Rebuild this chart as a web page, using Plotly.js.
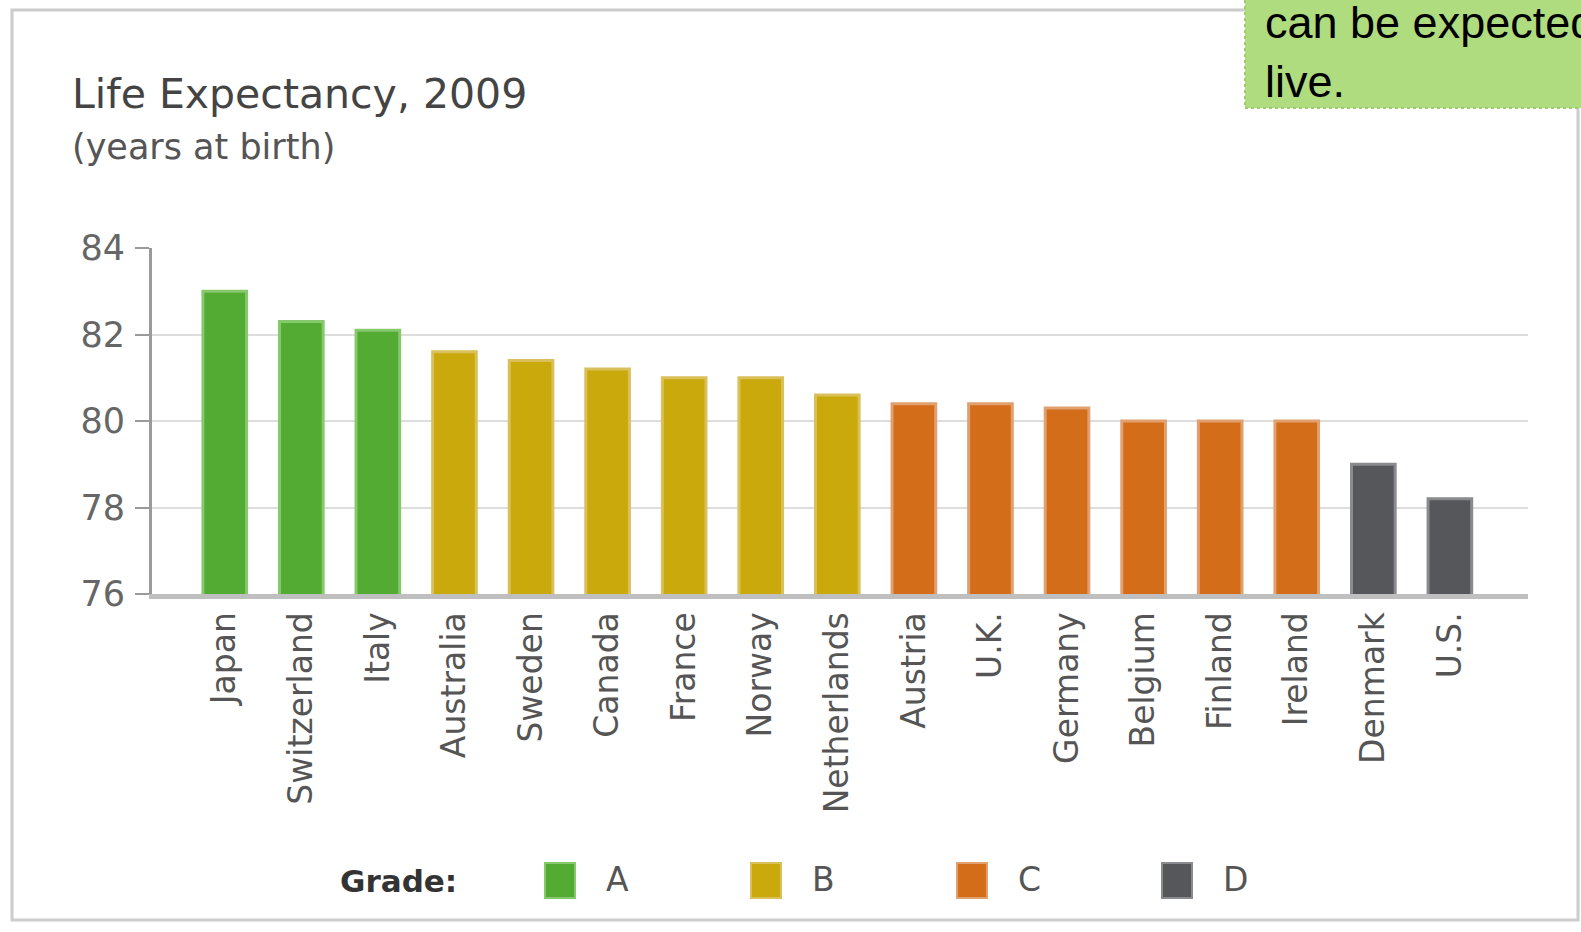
<!DOCTYPE html>
<html>
<head>
<meta charset="utf-8">
<script src="https://cdn.plot.ly/plotly-3.0.1.min.js"></script>
<style>
  html, body { margin: 0; padding: 0; background: #ffffff; }
  #chart { width: 1581px; height: 932px; }
</style>
</head>
<body>
<div id="chart"></div>
<script>
// ---- data ----
var countries = ['Japan', 'Switzerland', 'Italy', 'Australia', 'Sweden', 'Canada', 'France', 'Norway',
  'Netherlands', 'Austria', 'U.K.', 'Germany', 'Belgium', 'Finland', 'Ireland', 'Denmark', 'U.S.'];
var lifeExpectancy = [83.0, 82.3, 82.1, 81.6, 81.4, 81.2, 81.0, 81.0, 80.6, 80.4, 80.4, 80.3, 80.0, 80.0, 80.0, 79.0, 78.2];
var countryGrade = ['A', 'A', 'A', 'B', 'B', 'B', 'B', 'B', 'B', 'C', 'C', 'C', 'C', 'C', 'C', 'D', 'D'];
var grades = ['A', 'B', 'C', 'D'];
var gradeFill = ['#53ab33', '#c9a90b', '#d46d19', '#56575b'];
var gradeEdge = ['#86c86c', '#d9c05a', '#e0a070', '#8a8b8e'];
var yTicks = [76, 78, 80, 82, 84];

// ---- layout helpers ----
var W = 1581, H = 932;
var M = { l: 152, r: 53, t: 248, b: 338 };
var PW = W - M.l - M.r, PH = H - M.t - M.b;
function px(x) { return (x - M.l) / PW; }
function py(y) { return (H - M.b - y) / PH; }

var fillOf = {}, edgeOf = {};
grades.forEach(function (g, i) { fillOf[g] = gradeFill[i]; edgeOf[g] = gradeEdge[i]; });

var trace = {
  type: 'bar',
  x: countries,
  y: lifeExpectancy,
  width: 0.57,
  marker: {
    color: countryGrade.map(function (g) { return fillOf[g]; }),
    line: { color: countryGrade.map(function (g) { return edgeOf[g]; }), width: 3 }
  },
  hoverinfo: 'x+y',
  showlegend: false
};

var shapes = [];
var annotations = [];

// outer frame
shapes.push({ type: 'rect', xref: 'paper', yref: 'paper', layer: 'below',
  x0: px(12), x1: px(1578), y0: py(920), y1: py(10),
  line: { color: '#cccccc', width: 3 }, fillcolor: 'rgba(0,0,0,0)' });

// note box (top right, cut off by the picture edge as in the reference)
shapes.push({ type: 'rect', xref: 'paper', yref: 'paper', layer: 'above',
  x0: px(1245), x1: px(1600), y0: py(108), y1: py(-20),
  line: { color: '#9ccc6c', width: 2, dash: 'dot' }, fillcolor: '#b0dc80' });

annotations.push({ xref: 'paper', yref: 'paper', x: px(1263), y: py(52), xanchor: 'left', yanchor: 'middle',
  align: 'left',
  text: 'can be expected to<br>live.', showarrow: false,
  font: { family: 'Liberation Sans, Arial, sans-serif', size: 45, color: '#000000' } });

// titles
annotations.push({ xref: 'paper', yref: 'paper', x: px(70), y: py(94), xanchor: 'left', yanchor: 'middle',
  text: 'Life Expectancy, 2009', showarrow: false,
  font: { family: 'DejaVu Sans, sans-serif', size: 41, color: '#444444' } });
annotations.push({ xref: 'paper', yref: 'paper', x: px(70), y: py(147), xanchor: 'left', yanchor: 'middle',
  text: '(years at birth)', showarrow: false,
  font: { family: 'DejaVu Sans, sans-serif', size: 35, color: '#555555' } });

// legend
annotations.push({ xref: 'paper', yref: 'paper', x: px(338), y: py(881), xanchor: 'left', yanchor: 'middle',
  text: '<b>Grade:</b>', showarrow: false,
  font: { family: 'DejaVu Sans, sans-serif', size: 31, color: '#333333' } });
var legendX = [545, 751, 957, 1162];
grades.forEach(function (g, i) {
  var x0 = legendX[i];
  shapes.push({ type: 'rect', xref: 'paper', yref: 'paper',
    x0: px(x0), x1: px(x0 + 30), y0: py(898), y1: py(863),
    line: { color: gradeEdge[i], width: 2 }, fillcolor: gradeFill[i] });
  annotations.push({ xref: 'paper', yref: 'paper', x: px(x0 + 59), y: py(879), xanchor: 'left', yanchor: 'middle',
    text: g, showarrow: false,
    font: { family: 'DejaVu Sans, sans-serif', size: 33, color: '#555555' } });
});

var layout = {
  width: W, height: H,
  margin: M,
  paper_bgcolor: '#ffffff', plot_bgcolor: '#ffffff',
  font: { family: 'DejaVu Sans, sans-serif' },
  showlegend: false,
  xaxis: {
    type: 'category',
    categoryorder: 'array', categoryarray: countries,
    range: [-0.95, 17.02],
    tickangle: -90,
    ticks: '',
    ticklabelstandoff: 0,
    tickfont: { family: 'DejaVu Sans, sans-serif', size: 33, color: '#555555' },
    showgrid: false,
    showline: true, linecolor: '#bfbfbf', linewidth: 5,
    zeroline: false, fixedrange: true
  },
  yaxis: {
    range: [76, 84],
    tickvals: yTicks,
    ticktext: yTicks.map(String),
    ticks: 'outside', ticklen: 14, tickcolor: '#9a9a9a', tickwidth: 2,
    ticklabelstandoff: 3,
    tickfont: { family: 'DejaVu Sans, sans-serif', size: 35, color: '#666666' },
    showgrid: true, gridcolor: '#dddddd', gridwidth: 2,
    showline: true, linecolor: '#9a9a9a', linewidth: 3,
    zeroline: false, fixedrange: true
  },
  shapes: shapes,
  annotations: annotations
};

Plotly.newPlot('chart', [trace], layout, { displayModeBar: false, staticPlot: true });
</script>
</body>
</html>
